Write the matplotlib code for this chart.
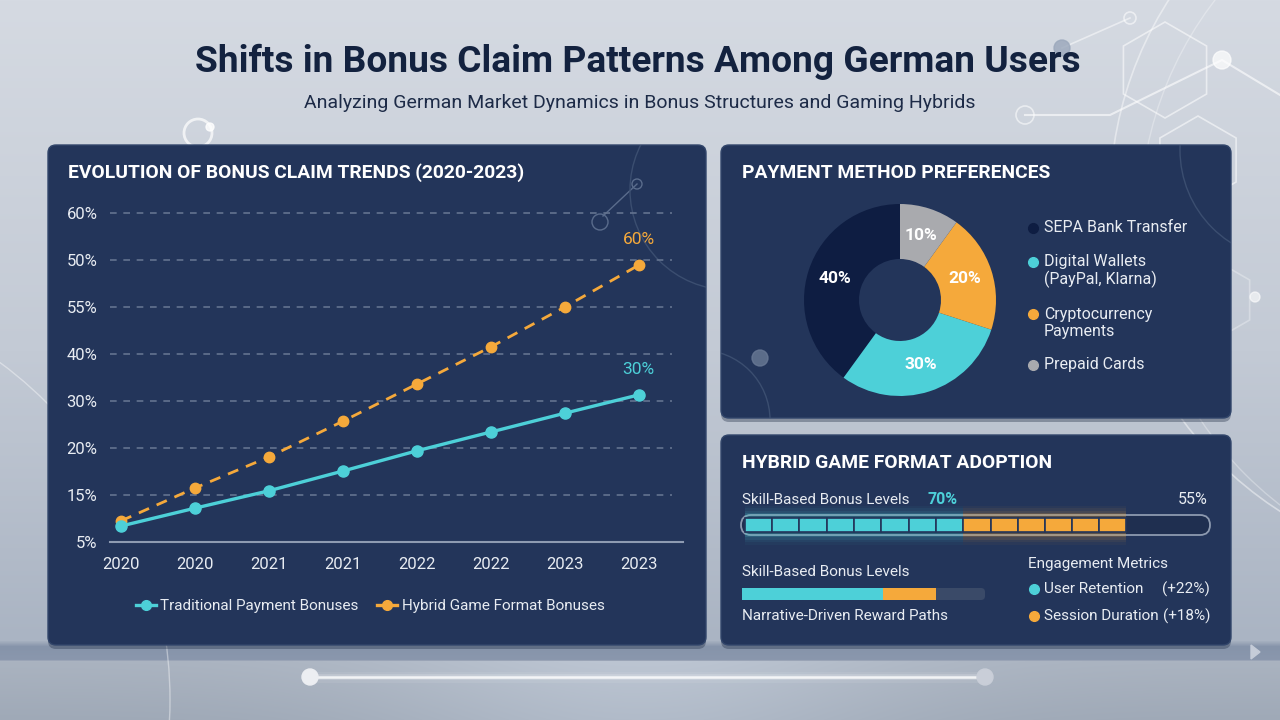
import numpy as np
import matplotlib
matplotlib.use("Agg")
import matplotlib.pyplot as plt
from matplotlib.patches import FancyBboxPatch, Circle, RegularPolygon, Ellipse, Polygon
from matplotlib.lines import Line2D

plt.rcParams["font.family"] = ["Roboto", "DejaVu Sans"]

# ---------------- data ----------------
years = ["2020", "2020", "2021", "2021", "2022", "2022", "2023", "2023"]
traditional = [3.4, 7.2, 10.9, 15.1, 19.4, 23.4, 27.4, 31.3]
hybrid = [4.5, 11.5, 18.1, 25.7, 33.6, 41.5, 50.0, 58.9]
trend_ticks = [0, 10, 20, 30, 40, 50, 60, 70]
trend_tick_labels = ["5%", "15%", "20%", "30%", "40%", "55%", "50%", "60%"]
series_names = ["Traditional Payment Bonuses", "Hybrid Game Format Bonuses"]
end_labels = ["30%", "60%"]

payment_methods = ["SEPA Bank Transfer", "Digital Wallets\n(PayPal, Klarna)",
                   "Cryptocurrency\nPayments", "Prepaid Cards"]
payment_share = [40, 30, 20, 10]

skill_parts = [47, 35]          # cyan / orange share of the track
skill_segments = [8, 6]
skill_labels = ["70%", "55%"]
narrative_parts = [58, 22]
metrics = ["User Retention", "Session Duration"]
metric_values = ["(+22%)", "(+18%)"]

# ---------------- style ----------------
PANEL = "#23355a"
CYAN = "#4dd0d8"
ORANGE = "#f5a93b"
SEPA = "#0e1d42"
GRAY = "#a9aaae"
TEXT = "#e8ecf2"
TITLE = "#13223f"
W, H = 1280, 720

fig = plt.figure(figsize=(12.8, 7.2), dpi=100)

# background axes in pixel coordinates
bg = fig.add_axes([0, 0, 1, 1])
bg.set_xlim(0, W)
bg.set_ylim(H, 0)
bg.axis("off")

def hex2rgb(h):
    h = h.lstrip("#")
    return [int(h[i:i + 2], 16) / 255 for i in (0, 2, 4)]

stops_y = [0, 350, 640, 646, 659, 661, 720]
stops_c = ["#d5dae2", "#c3cad5", "#aab4c3", "#8694aa", "#8a97ad", "#aab3c0", "#9fa9b7"]
rgb = np.array([hex2rgb(c) for c in stops_c])
rows = np.arange(H)
grad = np.stack([np.interp(rows, stops_y, rgb[:, k]) for k in range(3)], axis=1)
img = np.repeat(grad[:, None, :], W, axis=1)
# soft horizontal highlight in the bottom band
xs = np.arange(W)
hl = np.exp(-((xs - 640) / 260.0) ** 2) * 0.07
img[661:, :, :] += hl[None, :, None]
img = np.clip(img, 0, 1)
bg.imshow(img, extent=(0, W, H, 0), aspect="auto", zorder=0)

# decorations
deco = dict(fill=False, ec="white", alpha=0.55, lw=1.2, zorder=1)
bg.add_patch(RegularPolygon((1165, 70), 6, radius=48, **deco))
bg.add_patch(RegularPolygon((1198, 160), 6, radius=44, **deco))
bg.add_patch(RegularPolygon((1215, 300), 6, radius=40, fill=False, ec="white", alpha=0.3, lw=1.2, zorder=1))
bg.plot([1062, 1130], [48, 18], color="white", alpha=0.5, lw=1.2, zorder=1)
bg.plot([1025, 1110, 1222, 1280], [115, 115, 60, 95], color="white", alpha=0.6, lw=1.5, zorder=1)
bg.add_patch(Circle((1130, 18), 6, **deco))
bg.add_patch(Circle((1062, 48), 8, color="#9aa7bb", alpha=0.8, zorder=1))
bg.add_patch(Circle((1222, 60), 9, color="white", alpha=0.7, zorder=1))
bg.add_patch(Circle((1025, 115), 9, **deco))
bg.add_patch(Circle((1255, 297), 5, color="white", alpha=0.6, zorder=1))
bg.add_patch(Circle((1480, 200), 370, fill=False, ec="white", alpha=0.45, lw=1.2, zorder=1))
bg.add_patch(Circle((1500, 220), 360, fill=False, ec="white", alpha=0.3, lw=1.0, zorder=1))
bg.add_patch(Circle((198, 133), 14, fill=False, ec="white", alpha=0.7, lw=2, zorder=1))
bg.add_patch(Circle((210, 127), 4, color="white", alpha=0.8, zorder=1))
bg.add_patch(Circle((-250, 700), 420, fill=False, ec="white", alpha=0.4, lw=1, zorder=1))

# panels
panels = [(48, 145, 658, 500), (721, 145, 510, 273), (721, 435, 510, 210)]
panel_patches = []
for x0, y0, pw, ph in panels:
    bg.add_patch(FancyBboxPatch((x0, y0 + 4), pw, ph, boxstyle="round,pad=0,rounding_size=8",
                                fc="#1a2740", ec="none", alpha=0.35, zorder=2))
    p = FancyBboxPatch((x0, y0), pw, ph, boxstyle="round,pad=0,rounding_size=8",
                       fc=PANEL, ec="#32466b", lw=1, zorder=3)
    bg.add_patch(p)
    panel_patches.append(p)

# faint decorations on panels (clipped to panel)
bg.add_patch(Circle((637, 184), 5, fill=False, ec="#5a6c8c", lw=1, zorder=4))
bg.plot([637, 603], [184, 216], color="#5a6c8c", lw=1, zorder=4)
bg.add_patch(Circle((600, 222), 8, fill=False, ec="#5a6c8c", lw=1, zorder=4))
arc = Circle((730, 190), 100, fill=False, ec="#3b4e70", lw=1, zorder=4)
bg.add_patch(arc)
arc.set_clip_path(panel_patches[0])
arc2 = Circle((1290, 150), 110, fill=False, ec="#3b4e70", lw=1, zorder=4)
bg.add_patch(arc2)
arc2.set_clip_path(panel_patches[1])
arc3 = Circle((700, 420), 70, fill=False, ec="#3b4e70", lw=1, zorder=4)
bg.add_patch(arc3)
arc3.set_clip_path(panel_patches[1])
bg.add_patch(Circle((760, 358), 8, color="#6a7a96", alpha=0.8, zorder=4))

# titles
bg.text(638, 62, "Shifts in Bonus Claim Patterns Among German Users", ha="center", va="center",
        fontsize=26.7, fontweight="bold", color=TITLE, zorder=5)
bg.text(640, 103, "Analyzing German Market Dynamics in Bonus Structures and Gaming Hybrids",
        ha="center", va="center", fontsize=14, color="#1d2b47", zorder=5)
bg.text(68, 173, "EVOLUTION OF BONUS CLAIM TRENDS (2020-2023)", ha="left", va="center",
        fontsize=13.9, fontweight="bold", color="white", zorder=5)
bg.text(742, 173, "PAYMENT METHOD PREFERENCES", ha="left", va="center",
        fontsize=13.9, fontweight="bold", color="white", zorder=5)
bg.text(742, 463, "HYBRID GAME FORMAT ADOPTION", ha="left", va="center",
        fontsize=13.9, fontweight="bold", color="white", zorder=5)

# bottom glowing slider
for lw, a in [(8, 0.08), (4, 0.2), (1.8, 0.8)]:
    bg.plot([310, 985], [677, 677], color="white", lw=lw, alpha=a, solid_capstyle="round", zorder=1)
bg.add_patch(Ellipse((310, 677), 16, 16, color="#eceef2", zorder=2))
bg.add_patch(Ellipse((985, 677), 16, 16, color="#c9ced8", zorder=2))
bg.add_patch(Polygon([[1251, 645], [1251, 659], [1260, 652]], color="#c5ccd8", zorder=2))


def px_axes(x0, y0, x1, y1):
    return fig.add_axes([x0 / W, 1 - y1 / H, (x1 - x0) / W, (y1 - y0) / H])


# ---------------- line chart ----------------
ax = px_axes(110, 205, 672, 542)
ax.patch.set_alpha(0)
x = np.arange(len(years))
for t in trend_ticks[1:]:
    ax.axhline(t, color="#63738f", lw=1.2, ls=(0, (4, 4)), zorder=1)
ax.plot([-0.15, 7.6], [0, 0], color="#8e9bb2", lw=1.5, clip_on=False, zorder=1)
ax.plot(x, hybrid, color=ORANGE, lw=2, ls=(0, (4, 3)), marker="o", ms=7.5,
        label=series_names[1], zorder=3)
ax.plot(x, traditional, color=CYAN, lw=2.4, marker="o", ms=8,
        label=series_names[0], zorder=4)
ax.annotate(end_labels[0], (x[-1], traditional[-1]), xytext=(0, 13), textcoords="offset points",
            ha="center", va="bottom", color=CYAN, fontsize=12.5)
ax.annotate(end_labels[1], (x[-1], hybrid[-1]), xytext=(0, 13), textcoords="offset points",
            ha="center", va="bottom", color=ORANGE, fontsize=12.5)
ax.set_xlim(-0.15, 7.45)
ax.set_ylim(0, 71.7)
ax.set_yticks(trend_ticks, trend_tick_labels)
ax.set_xticks(x, years)
ax.tick_params(length=0, colors=TEXT, labelsize=12)
ax.tick_params(axis="y", pad=9)
ax.tick_params(axis="x", pad=11)
for s in ax.spines.values():
    s.set_visible(False)
handles = [Line2D([], [], color=CYAN, lw=2.4, marker="o", ms=7),
           Line2D([], [], color=ORANGE, lw=2.4, marker="o", ms=7)]
ax.legend(handles, series_names, loc="center", bbox_to_anchor=(0.463, -0.19), ncol=2,
          frameon=False, fontsize=11, labelcolor=TEXT, handlelength=1.3, handletextpad=0.3,
          columnspacing=1.2)

# ---------------- donut ----------------
pax = px_axes(800, 200, 1000, 400)
pax.pie(payment_share, colors=[SEPA, CYAN, ORANGE, GRAY], startangle=90, radius=0.96,
        wedgeprops=dict(width=0.55, edgecolor="none"), pctdistance=0.71,
        autopct=lambda p: f"{p:.0f}%",
        textprops=dict(color="white", fontsize=12.5, fontweight="bold"))
pax.set_xlim(-1, 1)
pax.set_ylim(-1, 1)

legend_y = [228, 262, 314, 365]
for name, color, ly in zip(payment_methods, [SEPA, CYAN, ORANGE, GRAY], legend_y):
    bg.plot(1033, ly, "o", ms=7, color=color, zorder=6)
    nlines = name.count("\n") + 1
    bg.text(1044, ly + (nlines - 1) * 9, name, ha="left", va="center", fontsize=11.5,
            color=TEXT, linespacing=1.2, zorder=6)

# ---------------- adoption bars ----------------
bg.text(742, 500, "Skill-Based Bonus Levels", ha="left", va="center", fontsize=11, color=TEXT, zorder=6)
bg.text(928, 500, skill_labels[0], ha="left", va="center", fontsize=11.5, fontweight="bold",
        color=CYAN, zorder=6)
bg.text(1208, 500, skill_labels[1], ha="right", va="center", fontsize=11.5, color=TEXT, zorder=6)
bg.add_patch(FancyBboxPatch((741, 515), 469, 20, boxstyle="round,pad=0,rounding_size=10",
                            fc="#1f2f50", ec="#8d9ab0", lw=1.3, zorder=5))

bax = px_axes(741, 505, 1210, 545)
bax.patch.set_alpha(0)
bax.axis("off")
bax.set_xlim(-0.8, 100)
bax.set_ylim(-1, 1)
start = 0
for part, nseg, color in zip(skill_parts, skill_segments, [CYAN, ORANGE]):
    for gh, ga in [(1.95, 0.04), (1.7, 0.06), (1.45, 0.09), (1.2, 0.14)]:
        bax.barh(0, part, left=start, height=gh, color=color, alpha=ga, zorder=1)
    seg = part / nseg
    bax.barh(np.zeros(nseg), seg, left=start + np.arange(nseg) * seg, height=0.72,
             color=color, edgecolor="#23355a", lw=1.2, zorder=3)
    start += part

bg.text(742, 572, "Skill-Based Bonus Levels", ha="left", va="center", fontsize=11, color=TEXT, zorder=6)
bg.add_patch(FancyBboxPatch((742, 588), 243, 12, boxstyle="round,pad=0,rounding_size=4",
                            fc="#3a4a68", ec="none", zorder=5))
nax = px_axes(742, 588, 985, 600)
nax.patch.set_alpha(0)
nax.axis("off")
nax.set_xlim(0, 100)
nax.set_ylim(-0.5, 0.5)
nax.barh(0, narrative_parts[0], left=0, height=1, color=CYAN)
nax.barh(0, narrative_parts[1], left=narrative_parts[0], height=1, color=ORANGE)
bg.text(742, 616, "Narrative-Driven Reward Paths", ha="left", va="center", fontsize=11, color=TEXT, zorder=6)

bg.text(1028, 564, "Engagement Metrics", ha="left", va="center", fontsize=11, color=TEXT, zorder=6)
for name, val, color, ly in zip(metrics, metric_values, [CYAN, ORANGE], [589, 616]):
    bg.plot(1034, ly, "o", ms=7, color=color, zorder=6)
    bg.text(1044, ly, name, ha="left", va="center", fontsize=11, color=TEXT, zorder=6)
    bg.text(1210, ly, val, ha="right", va="center", fontsize=11, color=TEXT, zorder=6)

fig.savefig("out.png", dpi=100)
